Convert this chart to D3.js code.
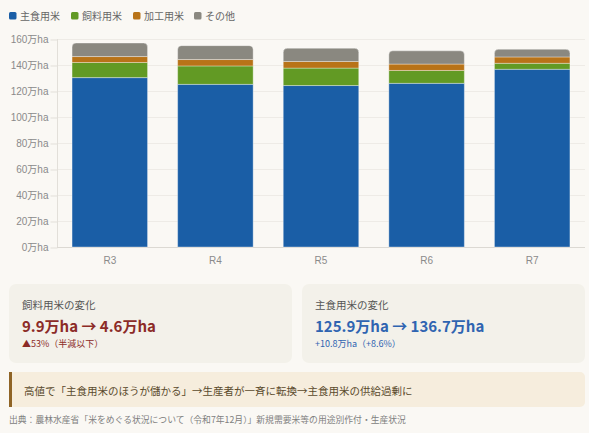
<!DOCTYPE html>
<html>
<head>
<meta charset="utf-8">
<script src="https://cdn.jsdelivr.net/npm/d3@7"></script>
<style>
    html, body { margin: 0; padding: 0; background: #faf8f4; }
    svg { display: block; }
    .axis text { font-family: "Liberation Sans", "Noto Sans CJK JP", sans-serif; font-size: 10px; fill: #8a8a8a; }
    .axis path { display: none; }
    .axis line { stroke: #e2dfd9; }
    .jp { font-family: "Noto Sans CJK JP", sans-serif; }
</style>
</head>
<body>
<svg id="chart" width="589" height="433"></svg>
<script>
    var years = ["R3", "R4", "R5", "R6", "R7"];
    var seriesNames = ["主食用米", "飼料用米", "加工用米", "その他"];
    var seriesColors = ["#1a5ea6", "#629a24", "#b87318", "#8a8880"];
    var mainRice = [130.3, 125.1, 124.2, 125.9, 136.7];
    var feedRice = [11.6, 14.2, 13.4, 9.9, 4.6];
    var processRice = [4.6, 4.9, 5.1, 4.9, 4.9];
    var otherRice = [10.4, 10.7, 10.2, 10.2, 5.9];
    var yTicks = [0, 20, 40, 60, 80, 100, 120, 140, 160];

    var plotLeft = 57, plotRight = 585, plotTop = 39, plotBottom = 247;
    var svg = d3.select("#chart");

    // legend
    var legendX = [9, 71, 133, 194];
    var legend = svg.selectAll(".legend")
        .data(seriesNames)
        .enter()
        .append("g")
        .attr("class", "legend")
        .attr("transform", function (d, i) { return "translate(" + legendX[i] + ",12)"; });
    legend.append("rect")
        .attr("width", 7.5).attr("height", 7.5).attr("rx", 1.5)
        .attr("fill", function (d, i) { return seriesColors[i]; });
    legend.append("text")
        .attr("class", "jp")
        .attr("x", 11).attr("y", 7.5)
        .attr("font-size", "10px").attr("fill", "#666")
        .text(function (d) { return d; });

    var xScale = d3.scaleBand().domain(years).range([plotLeft, plotRight]).paddingInner(0.285).paddingOuter(0.1425);
    var yScale = d3.scaleLinear().domain([0, 160]).range([plotBottom, plotTop]);

    // grid
    svg.append("g").selectAll("line")
        .data(yTicks)
        .enter()
        .append("line")
        .attr("x1", plotLeft).attr("x2", plotRight)
        .attr("y1", function (d) { return yScale(d) + 0.5; })
        .attr("y2", function (d) { return yScale(d) + 0.5; })
        .attr("stroke", function (d) { return d === 0 ? "#dcd9d3" : "#eeebe6"; });
    svg.append("line")
        .attr("x1", plotLeft + 0.5).attr("x2", plotLeft + 0.5)
        .attr("y1", plotTop).attr("y2", plotBottom)
        .attr("stroke", "#e2dfd9");

    var yAxis = d3.axisLeft(yScale)
        .tickValues(yTicks)
        .tickSize(7)
        .tickPadding(2)
        .tickFormat(function (d) { return d + "万ha"; });
    svg.append("g")
        .attr("class", "axis")
        .attr("transform", "translate(" + (plotLeft + 0.5) + ",0.5)")
        .call(yAxis);

    var xAxis = d3.axisBottom(xScale).tickSize(0).tickPadding(10);
    svg.append("g")
        .attr("class", "axis")
        .attr("transform", "translate(0," + plotBottom + ")")
        .call(xAxis);

    // stacked bars
    var rows = years.map(function (y, i) {
        return { year: y, "主食用米": mainRice[i], "飼料用米": feedRice[i], "加工用米": processRice[i], "その他": otherRice[i] };
    });
    var stack = d3.stack().keys(seriesNames)(rows);
    var bw = xScale.bandwidth();

    stack.forEach(function (layer, li) {
        var g = svg.append("g");
        g.selectAll("path")
            .data(layer)
            .enter()
            .append("path")
            .attr("fill", seriesColors[li])
            .attr("stroke", "rgba(255,255,255,0.35)")
            .attr("stroke-width", 1)
            .attr("d", function (d) {
                var x0 = xScale(d.data.year), y0 = yScale(d[1]), y1 = yScale(d[0]);
                var r = li === seriesNames.length - 1 ? 4 : 0;
                var p = d3.path();
                p.moveTo(x0, y1);
                p.lineTo(x0, y0 + r);
                if (r) p.quadraticCurveTo(x0, y0, x0 + r, y0);
                p.lineTo(x0 + bw - r, y0);
                if (r) p.quadraticCurveTo(x0 + bw, y0, x0 + bw, y0 + r);
                p.lineTo(x0 + bw, y1);
                p.closePath();
                return p.toString();
            });
    });

    // cards
    var cards = [
        { x: 9, title: "飼料用米の変化", value: "9.9万ha → 4.6万ha", sub: "▲53%（半減以下）", color: "#8c2b27" },
        { x: 302, title: "主食用米の変化", value: "125.9万ha → 136.7万ha", sub: "+10.8万ha（+8.6%）", color: "#2f64b1" }
    ];
    var card = svg.selectAll(".card")
        .data(cards)
        .enter()
        .append("g")
        .attr("class", "card")
        .attr("transform", function (d) { return "translate(" + d.x + ",284)"; });
    card.append("rect")
        .attr("width", 283).attr("height", 79).attr("rx", 7)
        .attr("fill", "#f3f1ea");
    card.append("text")
        .attr("class", "jp")
        .attr("x", 13).attr("y", 25)
        .attr("font-size", "10.5px").attr("fill", "#555")
        .text(function (d) { return d.title; });
    card.append("text")
        .attr("class", "jp")
        .attr("x", 13).attr("y", 48)
        .attr("font-size", "15px").attr("font-weight", "bold")
        .attr("fill", function (d) { return d.color; })
        .text(function (d) { return d.value; });
    card.append("text")
        .attr("class", "jp")
        .attr("x", 13).attr("y", 63)
        .attr("font-size", "9px")
        .attr("fill", function (d) { return d.color; })
        .text(function (d) { return d.sub; });

    // callout
    svg.append("rect")
        .attr("x", 9).attr("y", 372).attr("width", 576).attr("height", 35).attr("rx", 5)
        .attr("fill", "#f6eddd");
    svg.append("rect")
        .attr("x", 9).attr("y", 372).attr("width", 3).attr("height", 35)
        .attr("fill", "#8f6426");
    svg.append("text")
        .attr("class", "jp")
        .attr("x", 24).attr("y", 394.5)
        .attr("font-size", "10.5px").attr("fill", "#5a4a2c")
        .text("高値で「主食用米のほうが儲かる」→生産者が一斉に転換→主食用米の供給過剰に");

    svg.append("text")
        .attr("class", "jp")
        .attr("x", 9).attr("y", 423)
        .attr("font-size", "8.8px").attr("fill", "#808080")
        .text("出典：農林水産省「米をめぐる状況について（令和7年12月）」新規需要米等の用途別作付・生産状況");
</script>
</body>
</html>
